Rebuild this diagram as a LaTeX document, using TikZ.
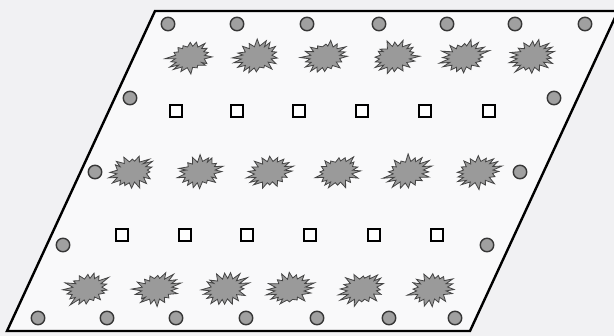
\documentclass[tikz,border=0pt]{standalone}
\usetikzlibrary{calc}
\definecolor{paper}{HTML}{F1F1F3}
\definecolor{dotfill}{HTML}{A0A0A0}
\definecolor{dotline}{HTML}{363636}
\definecolor{burstfill}{HTML}{9A9A9A}
\definecolor{burstline}{HTML}{444444}
\tikzset{
  dot/.style={circle, draw=dotline, fill=dotfill, line width=1.4pt, minimum size=13.5pt, inner sep=0pt},
  sq/.style={rectangle, draw=black, fill=white, line width=1.2pt, minimum size=12pt, inner sep=0pt},
  frame/.style={draw=black, line width=2.4pt, line join=miter},
  burst/.pic={
    \filldraw[fill=burstfill, draw=burstline, line width=0.8pt, rotate=14]
      plot[samples at={0,...,35}, variable=\k]
      ({ifthenelse(mod(\k,2)==0, 0.92+0.4*rnd, 0.74+0.06*rnd)*cos(\k*10)*20},
       {ifthenelse(mod(\k,2)==0, 0.92+0.4*rnd, 0.74+0.06*rnd)*sin(\k*10)*13.5}) -- cycle;
  }
}
\begin{document}
\begin{tikzpicture}[x=1pt,y=-1pt]
\pgfmathsetseed{23}
\fill[paper] (0,0) rectangle (614,336);
\useasboundingbox (0,0) rectangle (614,336);
\clip (0,0) rectangle (614,336);
\coordinate (BL) at (7,331);
\coordinate (BR) at (470,331);
\coordinate (TR) at (618,11);
\coordinate (TL) at (155,11);
\fill[white!60!paper] (BL) -- (BR) -- (TR) -- (TL) -- cycle;
\draw[frame] (BL) -- (BR) -- (TR) -- (TL) -- cycle;
% top circles
\foreach \x [count=\i] in {168,237,307,379,447,515,585}
  \node[dot] (t\i) at (\x,24) {};
% star row 1
\foreach \x [count=\i] in {190,257,325,395,464,532}
  \pic (sa\i) at (\x,57) {burst};
% side circles row 1
\node[dot] (l1) at (130,98) {};
\node[dot] (r1) at (554,98) {};
% squares row 1
\foreach \x [count=\i] in {176,237,299,362,425,489}
  \node[sq] (qa\i) at (\x,111) {};
% row 2
\node[dot] (l2) at (95,172) {};
\node[dot] (r2) at (520,172) {};
\foreach \x [count=\i] in {132,200,270,338,408,478}
  \pic (sb\i) at (\x,172) {burst};
% squares row 2
\foreach \x [count=\i] in {122,185,247,310,374,437}
  \node[sq] (qb\i) at (\x,235) {};
\node[dot] (l3) at (63,245) {};
\node[dot] (r3) at (487,245) {};
% star row 3
\foreach \x [count=\i] in {87,157,225,290,362,432}
  \pic (sc\i) at (\x,289) {burst};
% bottom circles
\foreach \x [count=\i] in {38,107,176,246,317,389,455}
  \node[dot] (b\i) at (\x,318) {};
\end{tikzpicture}
\end{document}
